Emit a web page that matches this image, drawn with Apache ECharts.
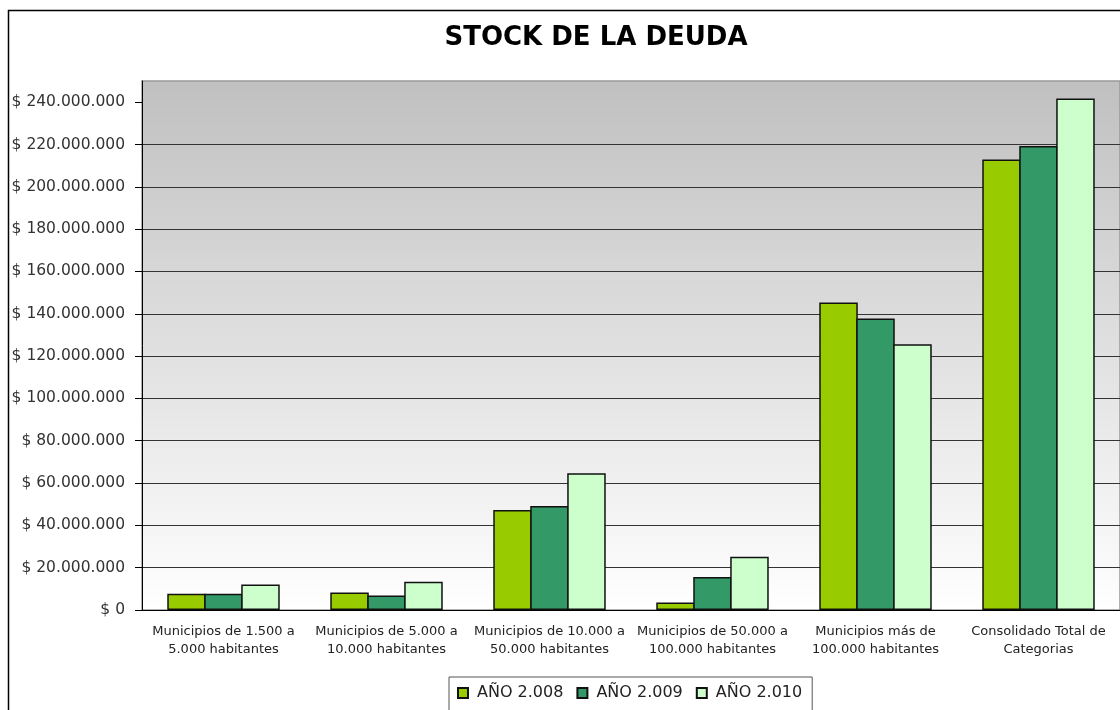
<!DOCTYPE html>
<html>
<head>
<meta charset="utf-8">
<script src="https://cdn.jsdelivr.net/npm/echarts@6/dist/echarts.min.js"></script>
<style>
  html, body { margin: 0; padding: 0; background: #fff; }
  #main { width: 1120px; height: 710px; }
</style>
</head>
<body>
<div id="main"></div>
<script>
var myChart = echarts.init(document.getElementById('main'));

var categories = [
  'Municipios de 1.500 a\n5.000 habitantes',
  'Municipios de 5.000 a\n10.000 habitantes',
  'Municipios de 10.000 a\n50.000 habitantes',
  'Municipios de 50.000 a\n100.000 habitantes',
  'Municipios más de\n100.000 habitantes',
  'Consolidado Total de\nCategorias'
];
var years = ['AÑO 2.008', 'AÑO 2.009', 'AÑO 2.010'];
var values2008 = [7700000, 8300000, 47200000, 3600000, 145300000, 212900000];
var values2009 = [7700000, 6900000, 49200000, 15600000, 137800000, 219300000];
var values2010 = [12000000, 13400000, 64600000, 25200000, 125600000, 241700000];
var yTicks = [0, 20000000, 40000000, 60000000, 80000000, 100000000, 120000000,
  140000000, 160000000, 180000000, 200000000, 220000000, 240000000];
var colors = ['#99cc00', '#339966', '#ccffcc'];

function money(v) {
  return '$ ' + String(Math.round(v)).replace(/\B(?=(\d{3})+(?!\d))/g, '.');
}

function bar(name, data, color) {
  return {
    name: name,
    type: 'bar',
    data: data,
    barGap: '-4%',
    barCategoryGap: '31%',
    itemStyle: { color: color, borderColor: '#111', borderWidth: 1.5 }
  };
}

var option = {
  textStyle: { fontFamily: 'DejaVu Sans' },
  title: {
    text: 'STOCK DE LA DEUDA',
    left: 596,
    textAlign: 'center',
    top: 25,
    padding: 0,
    textStyle: { fontSize: 26, fontWeight: 'bold', color: '#000', fontFamily: 'DejaVu Sans' }
  },
  legend: {
    data: years,
    left: 449,
    top: 677,
    padding: [8, 10, 14, 8],
    itemGap: 13,
    itemWidth: 10,
    itemHeight: 10,
    icon: 'rect',
    borderColor: '#555',
    borderWidth: 1,
    textStyle: { fontSize: 16, color: '#222', fontFamily: 'DejaVu Sans', padding: [0, 0, 0, 4] }
  },
  grid: {
    left: 142,
    top: 81,
    right: -6,
    bottom: 100,
    show: true,
    borderColor: '#999',
    borderWidth: 1.5,
    backgroundColor: new echarts.graphic.LinearGradient(0, 0, 0, 1, [
      { offset: 0, color: '#c0c0c0' },
      { offset: 1, color: '#ffffff' }
    ])
  },
  xAxis: {
    type: 'category',
    data: categories,
    axisLine: { lineStyle: { color: '#000', width: 1 } },
    axisTick: { length: 5, lineStyle: { color: '#000' } },
    axisLabel: {
      fontSize: 13,
      lineHeight: 18,
      color: '#222',
      margin: 13,
      interval: 0
    }
  },
  yAxis: {
    type: 'value',
    min: 0,
    max: 250000000,
    interval: 20000000,
    axisLine: { show: true, lineStyle: { color: '#000', width: 1 } },
    axisTick: { show: true, length: 7, customValues: yTicks, lineStyle: { color: '#000' } },
    axisLabel: {
      customValues: yTicks,
      formatter: money,
      fontSize: 15.5,
      color: '#333',
      margin: 17
    },
    splitLine: { showMaxLine: false, lineStyle: { color: '#333', width: 1 } }
  },
  series: [
    bar(years[0], values2008, colors[0]),
    bar(years[1], values2009, colors[1]),
    bar(years[2], values2010, colors[2])
  ],
  graphic: [{
    type: 'rect',
    shape: { x: 8.5, y: 10.5, width: 1300, height: 900 },
    style: { fill: null, stroke: '#000', lineWidth: 1.5 },
    silent: true,
    z: 100
  }]
};
myChart.setOption(option);
</script>
</body>
</html>
